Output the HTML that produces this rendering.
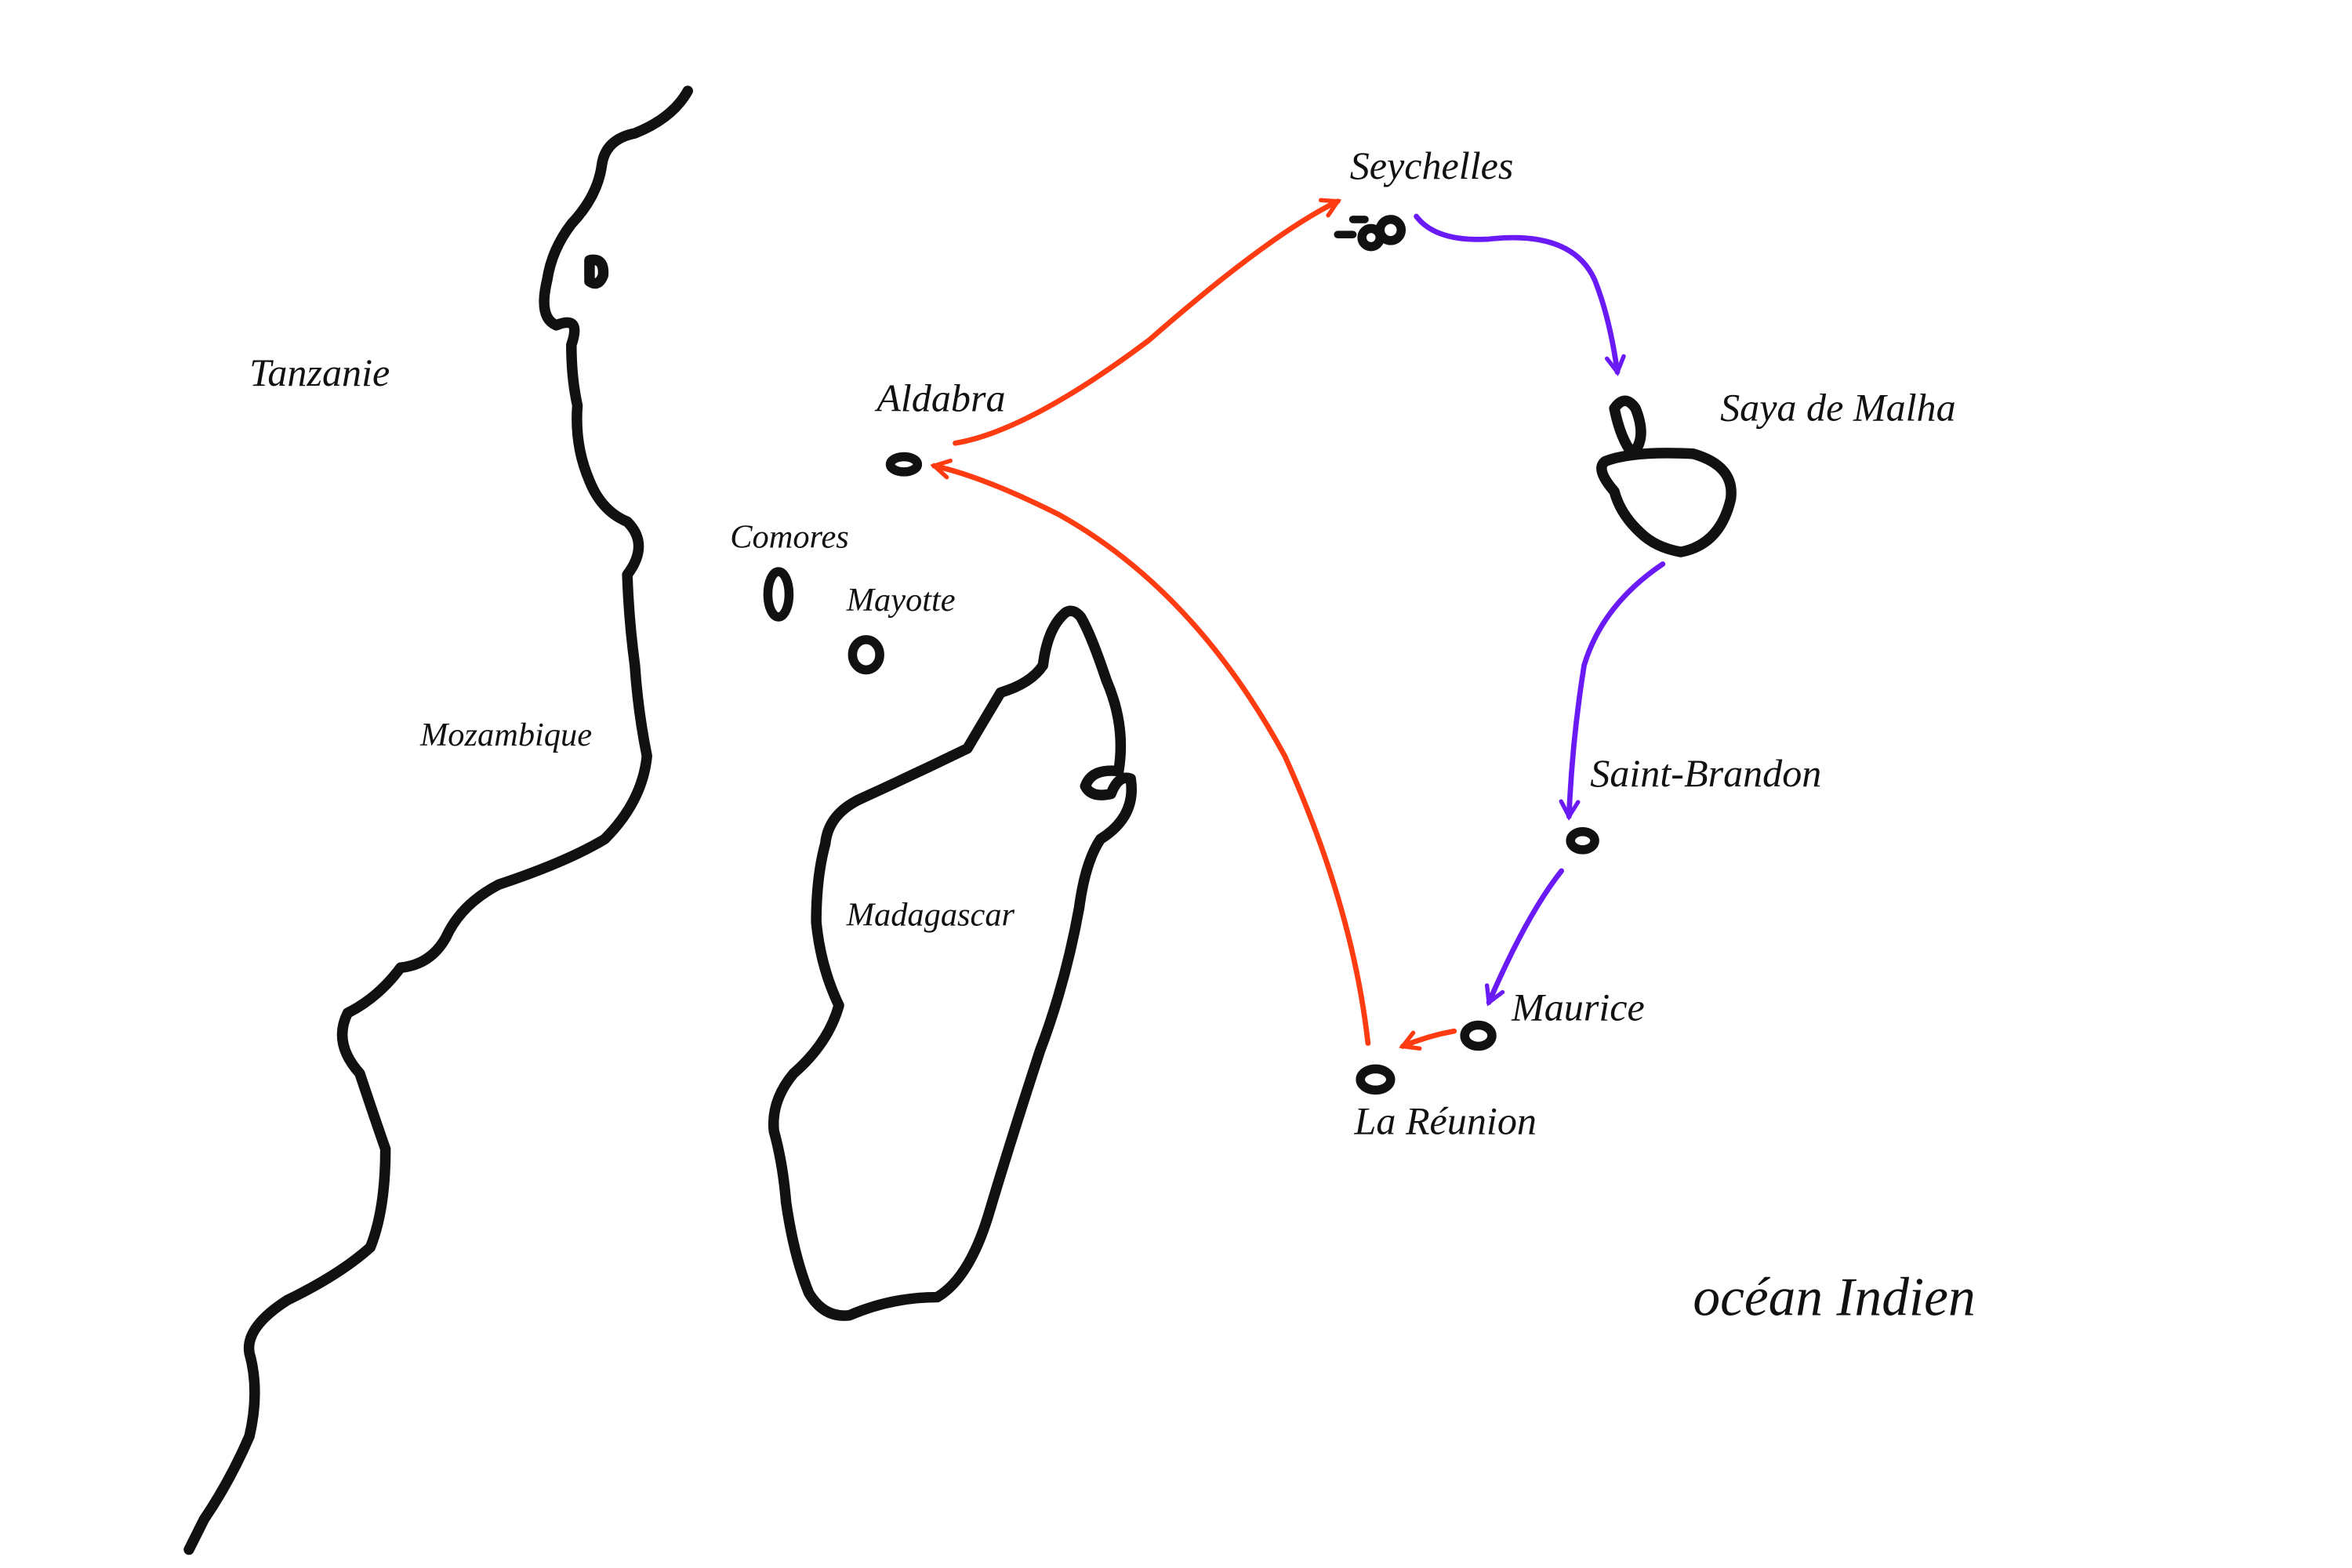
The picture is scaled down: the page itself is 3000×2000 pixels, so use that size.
<!DOCTYPE html>
<html><head><meta charset="utf-8"><style>
html,body{margin:0;padding:0;background:#fff;width:3000px;height:2000px;overflow:hidden}
svg{display:block}
text{font-family:"Liberation Serif",serif;font-style:italic;fill:#111}
</style></head><body>
<svg width="3000" height="2000" viewBox="0 0 1556 1037" xmlns="http://www.w3.org/2000/svg">
<defs>
<marker id="ar" viewBox="0 0 10 10" refX="8" refY="5" markerWidth="4" markerHeight="4" orient="auto-start-reverse">
<path d="M1,1 L8,5 L1,9" fill="none" stroke="#ff3b12" stroke-width="2" stroke-linecap="round"/></marker>
<marker id="ap" viewBox="0 0 10 10" refX="8" refY="5" markerWidth="4" markerHeight="4" orient="auto-start-reverse">
<path d="M1,1 L8,5 L1,9" fill="none" stroke="#6a1af5" stroke-width="2" stroke-linecap="round"/></marker>
</defs>
<g fill="none" stroke="#111" stroke-width="7" stroke-linecap="round" stroke-linejoin="round">
<path d="M455,60 Q445,78 420,88 Q400,92 398,110 Q395,130 378,148 Q365,165 362,185 Q356,210 368,215 Q385,208 378,228 Q378,250 382,268 Q380,295 390,318 Q398,338 415,345 Q430,360 415,380 Q416,410 420,440 Q422,470 428,500 Q425,530 400,555 Q375,570 330,585 Q305,598 295,620 Q285,638 265,640 Q250,660 230,670 Q220,690 238,710 Q248,740 255,760 Q255,800 245,825 Q225,843 190,860 Q162,878 165,895 Q172,920 165,950 Q152,980 135,1005 L125,1025"/>
<path d="M390,172 Q400,170 399,182 Q396,190 390,186 Z"/>
<path d="M705,405 Q693,415 690,440 Q682,452 662,458 Q650,478 640,495 Q605,512 570,528 Q548,538 546,558 Q540,580 540,610 Q543,640 555,665 Q548,690 525,710 Q510,728 512,748 Q518,770 520,795 Q525,830 535,855 Q545,872 562,870 Q590,858 620,858 Q642,845 655,800 Q670,750 688,695 Q705,650 714,600 Q718,570 728,555 Q752,540 748,515 Q740,512 735,525 Q722,528 718,520 Q722,508 740,510 Q745,480 732,450 Q722,420 715,408 Q710,402 705,405 Z"/>
<path d="M1068,270 Q1075,260 1082,270 Q1090,290 1080,300 Q1072,290 1068,270 Z"/>
<path d="M1062,305 Q1080,298 1120,300 Q1148,308 1145,330 Q1138,360 1112,365 Q1095,362 1085,352 Q1072,340 1068,325 Q1055,310 1062,305 Z"/>
</g>
<g fill="none" stroke="#111" stroke-width="6">
<ellipse cx="598" cy="307" rx="9" ry="5"/>
<ellipse cx="515" cy="393" rx="7" ry="15"/>
<ellipse cx="573" cy="433" rx="9" ry="10"/>
<ellipse cx="907" cy="157" rx="6" ry="6"/>
<ellipse cx="920" cy="152" rx="7" ry="7"/>
<ellipse cx="1047" cy="556" rx="8" ry="6"/>
<ellipse cx="978" cy="685" rx="9" ry="7"/>
<ellipse cx="910" cy="714" rx="10" ry="7"/>
</g>
<path d="M885,155 L895,155 M895,145 L903,145" stroke="#111" stroke-width="5" stroke-linecap="round"/>
<g fill="none" stroke-width="3.5" stroke-linecap="round">
<path d="M632,293 Q680,285 760,225 Q840,155 885,133" stroke="#ff3b12" marker-end="url(#ar)"/>
<path d="M905,690 Q895,600 850,500 Q790,390 700,340 Q650,315 618,308" stroke="#ff3b12" marker-end="url(#ar)"/>
<path d="M962,682 Q945,685 928,692" stroke="#ff3b12" marker-end="url(#ar)"/>
<path d="M937,143 Q950,160 985,158 Q1040,152 1055,185 Q1065,210 1070,246" stroke="#6a1af5" marker-end="url(#ap)"/>
<path d="M1100,373 Q1060,400 1048,440 Q1040,490 1038,540" stroke="#6a1af5" marker-end="url(#ap)"/>
<path d="M1033,576 Q1010,605 985,663" stroke="#6a1af5" marker-end="url(#ap)"/>
</g>
<g font-size="26">
<text x="893" y="118">Seychelles</text>
<text x="580" y="272">Aldabra</text>
<text x="1138" y="278">Saya de Malha</text>
<text x="483" y="362" font-size="22">Comores</text>
<text x="560" y="404" font-size="22">Mayotte</text>
<text x="165" y="255">Tanzanie</text>
<text x="278" y="493" font-size="22">Mozambique</text>
<text x="560" y="612" font-size="22">Madagascar</text>
<text x="1052" y="520">Saint-Brandon</text>
<text x="1000" y="675">Maurice</text>
<text x="896" y="750">La Réunion</text>
<text x="1120" y="870" font-size="36">océan Indien</text>
</g>
</svg>
</body></html>
